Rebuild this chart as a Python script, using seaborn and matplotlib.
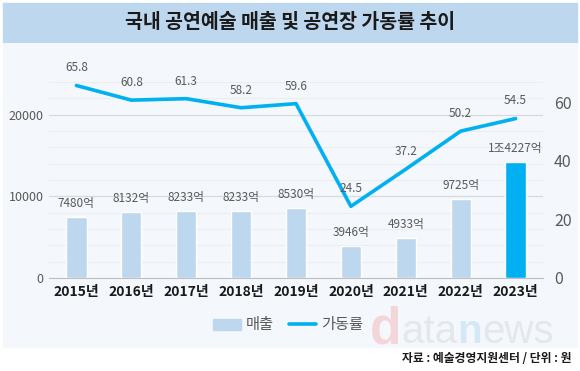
import matplotlib
matplotlib.use("Agg")
import matplotlib.pyplot as plt
import seaborn as sns
import pandas as pd
from matplotlib.patches import Rectangle
from matplotlib.lines import Line2D
from matplotlib.ticker import MultipleLocator

# data
years = ["2015년", "2016년", "2017년", "2018년", "2019년", "2020년", "2021년", "2022년", "2023년"]
sales = [7480, 8132, 8233, 8233, 8530, 3946, 4933, 9725, 14227]
sales_labels = ["7480억", "8132억", "8233억", "8233억", "8530억", "3946억", "4933억", "9725억", "1조4227억"]
occupancy = [65.8, 60.8, 61.3, 58.2, 59.6, 24.5, 37.2, 50.2, 54.5]

title = "국내 공연예술 매출 및 공연장 가동률 추이"
source = "자료 : 예술경영지원센터 / 단위 : 원"
watermark = [("d", "#f3d6da"), ("ata", "#e4e7ec"), ("n", "#d5e8f6"), ("ews", "#e4e7ec")]

sns.set_style("white")
plt.rcParams["font.family"] = ["Noto Sans CJK KR", "DejaVu Sans"]

LIGHT = "#bdd7ee"
BLUE = "#00b0f0"
GRAY = "#595959"

df = pd.DataFrame({"year": years, "sales": sales, "occ": occupancy})
df["hl"] = ["base"] * (len(years) - 1) + ["last"]

fig = plt.figure(figsize=(5.8, 3.71), dpi=100)
fig.patch.set_facecolor("white")

# title band and panel background
fig.add_artist(Rectangle((3 / 580, 1 - 42 / 371), 574 / 580, 39 / 371,
                         transform=fig.transFigure, color=LIGHT, zorder=0))
fig.add_artist(Rectangle((3 / 580, 1 - 347 / 371), 574 / 580, 303 / 371,
                         transform=fig.transFigure, color="#f4f7fc", zorder=0))
fig.text(0.5, 1 - 22 / 371, title, ha="center", va="center",
         fontsize=14, fontweight="bold", color="#1a1a1a")

ax = fig.add_axes([49 / 580, 1 - 278 / 371, 494 / 580, 196 / 371])
ax.set_facecolor("none")

sns.barplot(data=df, x="year", y="sales", hue="hl",
            palette={"base": LIGHT, "last": BLUE}, width=0.37, saturation=1,
            dodge=False, legend=False, ax=ax, zorder=3)
ax.set_ylim(0, 24000)
ax.yaxis.set_major_locator(MultipleLocator(10000))
ax.yaxis.set_minor_locator(MultipleLocator(2000))
ax.grid(axis="y", which="minor", color="#ebedf0", lw=0.8, zorder=0)
ax.grid(axis="y", which="major", color="#d6d9dd", lw=0.9, zorder=0)
ax.set_axisbelow(True)
ax.set_xlabel("")
ax.set_ylabel("")
for s in ["top", "right", "left"]:
    ax.spines[s].set_visible(False)
ax.spines["bottom"].set_color("#bfbfbf")
ax.tick_params(axis="y", which="both", labelsize=9, labelcolor=GRAY, length=0, pad=4)
ax.tick_params(axis="x", length=0, pad=5)
for lbl in ax.get_xticklabels():
    lbl.set_fontsize(10)
    lbl.set_fontweight("bold")
    lbl.set_color("#1a1a1a")
# separators between categories
ax.set_xticks([i + 0.5 for i in range(-1, len(years))], minor=True)
ax.tick_params(axis="x", which="minor", length=4, color="#bfbfbf", direction="out")
ax.set_xlim(-0.5, len(years) - 0.5)

for i, (v, t) in enumerate(zip(sales, sales_labels)):
    ax.annotate(t, (i, v), xytext=(0, 5), textcoords="offset points",
                ha="center", va="bottom", fontsize=8.5, color=GRAY, zorder=5)

ax2 = ax.twinx()
sns.lineplot(data=df, x="year", y="occ", color=BLUE, lw=2.6, ax=ax2, zorder=4)
ax2.set_ylim(0, 67)
ax2.set_yticks([0, 20, 40, 60])
ax2.set_xlim(-0.5, len(years) - 0.5)
ax2.set_ylabel("")
ax2.set_xlabel("")
for s in ["top", "right", "left", "bottom"]:
    ax2.spines[s].set_visible(False)
ax2.tick_params(axis="y", labelsize=11.5, labelcolor=GRAY, length=0, pad=8)
for i, v in enumerate(occupancy):
    ax2.annotate(f"{v}", (i, v), xytext=(0, 8), textcoords="offset points",
                 ha="center", va="bottom", fontsize=8.5, color=GRAY, zorder=5)

# legend
handles = [Rectangle((0, 0), 1, 1, color=LIGHT), Line2D([], [], color=BLUE, lw=2.6)]
leg = fig.legend(handles, ["매출", "가동률"], loc="center", bbox_to_anchor=(288 / 580, 1 - 325 / 371),
                 ncol=2, frameon=False, fontsize=11, labelcolor=GRAY,
                 handlelength=1.8, handletextpad=0.3, columnspacing=1.0)

# faint watermark, pieces laid side by side, starting just right of the legend
renderer = fig.canvas.get_renderer()
x_px = leg.get_window_extent(renderer).x1 + 1
for piece, col in watermark:
    big = piece == "d"
    t = fig.text(x_px / 580, 1 - 343 / 371, piece, fontsize=37 if big else 29, color=col,
                 ha="left", va="baseline", zorder=1, family="Liberation Sans",
                 fontweight="bold" if piece in ("d", "n") else "normal")
    x_px += t.get_window_extent(renderer).width

fig.text(572 / 580, 1 - 358 / 371, source, ha="right", va="center",
         fontsize=8.5, fontweight="bold", color="#1a1a1a")

fig.savefig("out.png", dpi=100)
